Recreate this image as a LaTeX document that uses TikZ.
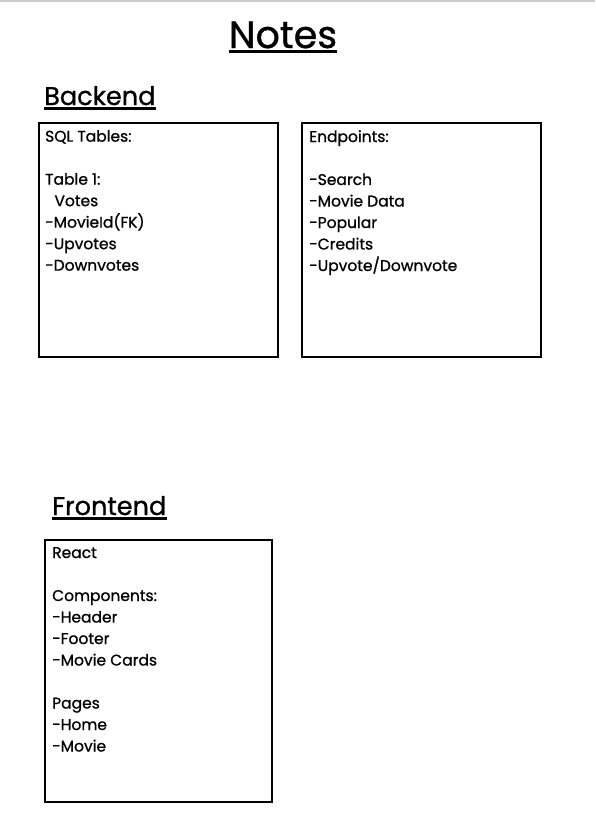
\documentclass[tikz,border=0pt]{standalone}
\usepackage{fontspec}
\setmainfont{Poppins}[FakeBold=0.9]
\usetikzlibrary{positioning}

\begin{document}
\begin{tikzpicture}
        [%%%%%%%%%%%%%%%%%%%%%%%%%%%%%%
        x=1pt, y=-1pt,
        box/.style={rectangle, draw=black, line width=1.8pt, inner sep=0pt},
        note/.style={anchor=north west, align=left, inner sep=0pt,
          font=\fontsize{15.5}{21.5}\selectfont},
        heading/.style={anchor=base west, inner sep=0pt},
        rule/.style={line width=2.8pt},
        ]%%%%%%%%%%%%%%%%%%%%%%%%%%%%%%
        \useasboundingbox (0,0) rectangle (595,830);
        % Top edge
        \draw[color=black!20, line width=2pt] (0,1) -- (595,1);
        % Title
        \node[heading, anchor=base, font=\fontsize{38}{38}\selectfont] (notes) at (283,48) {Notes};
        \draw[rule] ([yshift=-3.5pt]notes.base west) -- ([yshift=-3.5pt]notes.base east);
        % Headings
        \node[heading, font=\fontsize{25.6}{26}\selectfont] (backend) at (44,105) {Backend};
        \draw[rule] ([yshift=-3.5pt]backend.base west) -- ([yshift=-3.5pt]backend.base east);
        \node[heading, font=\fontsize{25.6}{26}\selectfont] (frontend) at (52,515) {Frontend};
        \draw[rule] ([yshift=-3.5pt]frontend.base west) -- ([yshift=-3.5pt]frontend.base east);
        % Boxes
        \node[box, minimum width=239pt, minimum height=234pt, anchor=north west] (tables) at (38,122) {};
        \node[box, minimum width=239pt, minimum height=234pt, anchor=north west] (endpoints) at (301,122) {};
        \node[box, minimum width=227pt, minimum height=262pt, anchor=north west] (react) at (44,539) {};
        % Text
        \node[note] (tablestext) at ([xshift=7pt, yshift=-8pt]tables.north west)
          {SQL Tables:\\ \mbox{}\\ Table 1:\\ \hspace{0.6em}Votes\\ -MovieId(FK)\\ -Upvotes\\ -Downvotes};
        \node[note] (endpointstext) at ([xshift=8pt, yshift=-8pt]endpoints.north west)
          {Endpoints:\\ \mbox{}\\ -Search\\ -Movie Data\\ -Popular\\ -Credits\\ -Upvote/Downvote};
        \node[note] (reacttext) at ([xshift=8pt, yshift=-8pt]react.north west)
          {React\\ \mbox{}\\ Components:\\ -Header\\ -Footer\\ -Movie Cards\\ \mbox{}\\ Pages\\ -Home\\ -Movie};
      \end{tikzpicture}
\end{document}
